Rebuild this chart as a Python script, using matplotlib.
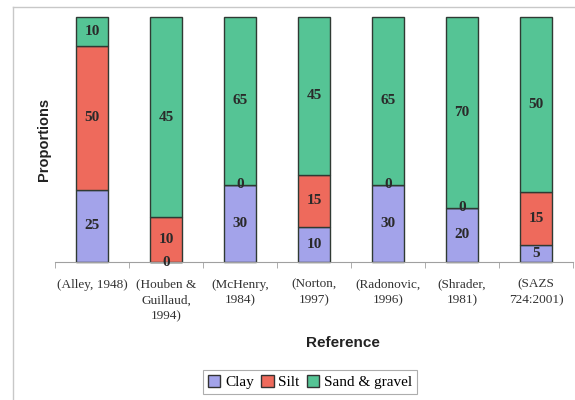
import numpy as np
import matplotlib
matplotlib.use('Agg')
import matplotlib.pyplot as plt
from matplotlib.patches import Patch
from matplotlib.lines import Line2D

references = ['(Alley, 1948)', '(Houben &\nGuillaud,\n1994)', '(McHenry,\n1984)',
              '(Norton,\n1997)', '(Radonovic,\n1996)', '(Shrader,\n1981)', '(SAZS\n724:2001)']
clay = [25, 0, 30, 10, 30, 20, 5]
silt = [50, 10, 0, 15, 0, 0, 15]
sand_gravel = [10, 45, 65, 45, 65, 70, 50]

series = [('Clay', clay, '#a3a3ea'), ('Silt', silt, '#ee6a5c'), ('Sand & gravel', sand_gravel, '#55c495')]
serif = 'Liberation Serif'
sans = 'Liberation Sans'

fig = plt.figure(figsize=(5.75, 4.0), dpi=100)
ax = fig.add_axes([55 / 575, 1 - 262 / 400, 518 / 575, 245 / 400])

x = np.arange(len(references))
totals = np.array(clay) + np.array(silt) + np.array(sand_gravel)
bottom = np.zeros(len(references))
for name, vals, col in series:
    share = np.array(vals) / totals
    ax.bar(x, share, 0.43, bottom=bottom, color=col, edgecolor='#2f3a33',
           linewidth=1.0, label=name, clip_on=False)
    for xi, b, s, v in zip(x, bottom, share, vals):
        ax.text(xi, b + s / 2, str(v), ha='center', va='center', fontsize=11,
                family=serif, color='#2a2a2a', fontweight='bold')
    bottom += share

ax.set_xlim(-0.5, len(references) - 0.5)
ax.set_ylim(0, 1)
ax.set_yticks([])
for s in ['top', 'right', 'left']:
    ax.spines[s].set_visible(False)
ax.spines['bottom'].set_color('#a0a0a0')
ax.set_xticks(x)
ax.set_xticklabels(references, family=serif, fontsize=9.5, linespacing=1.4, color='#333333')
ax.tick_params(axis='x', length=0, pad=12)
ax.set_xticks(np.arange(len(references) + 1) - 0.5, minor=True)
ax.tick_params(axis='x', which='minor', length=4, color='#a0a0a0', direction='out')

ax.set_ylabel('Proportions', family=sans, fontsize=10.5, fontweight='bold',
              labelpad=3, color='#222222')
fig.text(343 / 575, 1 - 343 / 400, 'Reference', ha='center', va='center',
         family=sans, fontsize=11, fontweight='bold', color='#222222')

# outer frame of the chart area
fig.add_artist(Line2D([13 / 575, 13 / 575], [0, 1 - 7 / 400], color='#c8c8c8', lw=1))
fig.add_artist(Line2D([13 / 575, 1], [1 - 7 / 400, 1 - 7 / 400], color='#c8c8c8', lw=1))

handles = [Patch(facecolor=c, edgecolor='#333333', label=n) for n, _, c in series]
leg = fig.legend(handles=handles, loc='center', bbox_to_anchor=(310 / 575, 1 - 382 / 400),
                 ncol=3, frameon=True, fancybox=False, handlelength=0.8, handleheight=0.8,
                 handletextpad=0.3, columnspacing=0.5, borderpad=0.35,
                 prop={'family': serif, 'size': 11})
leg.get_frame().set_edgecolor('#999999')
leg.get_frame().set_linewidth(0.8)

fig.savefig('out.png', dpi=100)
